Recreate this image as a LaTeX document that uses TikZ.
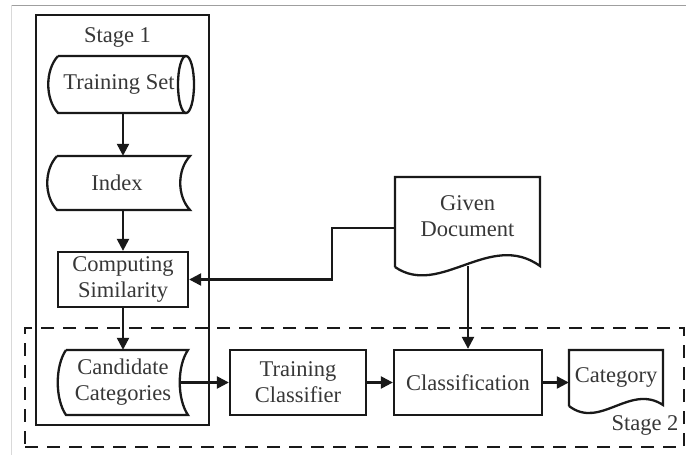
\documentclass[tikz,border=0pt]{standalone}
\usepackage{fontspec}
\setmainfont{Liberation Serif}
\usetikzlibrary{arrows.meta}
\definecolor{lc}{RGB}{25,25,25}
\definecolor{tc}{RGB}{55,55,55}
\begin{document}
\begin{tikzpicture}[x=1pt,y=-1pt,
  ln/.style={line width=2.3pt, draw=lc},
  arr/.style={ln, -{Triangle[length=12pt,width=12pt,fill=lc]}},
  lbl/.style={font=\fontsize{22.5}{26}\selectfont, align=center, inner sep=0pt, text=tc},
  boxnode/.style={lbl, draw=lc, line width=2.3pt}
]
\useasboundingbox (0,0) rectangle (686,455);
% thin outer frame lines
\draw[gray!75, line width=1pt] (11,5) -- (686,5);
\draw[gray!30, line width=0.8pt] (11,5) -- (11,455);

% stage frames
\node[draw=lc, line width=2.3pt, inner sep=0pt, minimum width=173pt, minimum height=410pt] (s1box) at (122.5,220) {};
\node[draw=lc, line width=2.3pt, dash pattern=on 13pt off 9pt, inner sep=0pt, minimum width=659pt, minimum height=119pt] (s2box) at (354.5,387.5) {};
\node[lbl] (st1) at (117.5,37) {Stage 1};
\node[lbl] (st2) at (645,425) {Stage 2};

% Training Set (horizontal cylinder)
\draw[ln] (58,56) -- (186,56) (186,113) -- (58,113) .. controls (45,99) and (45,70) .. (58,56);
\draw[ln] (186,84.5) ellipse [x radius=8pt, y radius=28.5pt];
\node[lbl, minimum height=57pt, minimum width=138pt] (ts) at (119,84.5) {Training Set};

% Index (stored data)
\draw[ln] (57,156) -- (190,156) .. controls (177,170) and (177,196) .. (190,210) -- (57,210) .. controls (44,196) and (44,170) .. (57,156);
\node[lbl, minimum height=54pt, minimum width=130pt] (idx) at (117,183) {Index};

% Computing Similarity
\node[boxnode, minimum width=130pt, minimum height=55pt] (cs) at (123,279.5) {Computing\\Similarity};

% Candidate Categories (stored data)
\draw[ln] (66,350) -- (188,350) .. controls (177,366) and (177,399) .. (188,415) -- (66,415) .. controls (55,399) and (55,366) .. (66,350);
\node[lbl, minimum height=65pt, minimum width=120pt] (cc) at (123,382.5) {Candidate\\Categories};
\coordinate (ccr) at (180,382.5);

% Training Classifier, Classification
\node[boxnode, minimum width=136pt, minimum height=65pt] (tcl) at (298,382.5) {Training\\Classifier};
\node[boxnode, minimum width=148pt, minimum height=65pt] (cl) at (468,382.5) {Classification};

% Category (document)
\draw[ln] (569,406) -- (569,350) -- (663,350) -- (663,405) .. controls (630,383) and (600,430) .. (569,406);
\node[lbl, minimum height=56pt, minimum width=94pt] (cat) at (616,377) {Category};

% Given Document (document)
\draw[ln] (395,267) -- (395,177) -- (540,177) -- (540,266) .. controls (490,230) and (440,298) .. (395,267);
\node[lbl, minimum height=70pt, minimum width=145pt] (gd) at (467.5,216) {Given\\Document};
\coordinate (gdb) at (468,266);
\coordinate (gdl) at (395,228);
\coordinate (bend) at (332,228);

% connectors
\draw[arr] (ts.south -| cs.north) -- (idx.north -| cs.north);
\draw[arr] (idx.south -| cs.north) -- (cs.north);
\draw[arr] (cs.south) -- (cc.north);
\draw[arr] (ccr) -- (tcl.west);
\draw[arr] (tcl.east) -- (cl.west);
\draw[arr] (cl.east) -- (cl.east -| cat.west);
\draw[arr] (cl.north |- gdb) -- (cl.north);
\draw[arr] (gdl) -- (bend) |- (cs.east);
\end{tikzpicture}
\end{document}
